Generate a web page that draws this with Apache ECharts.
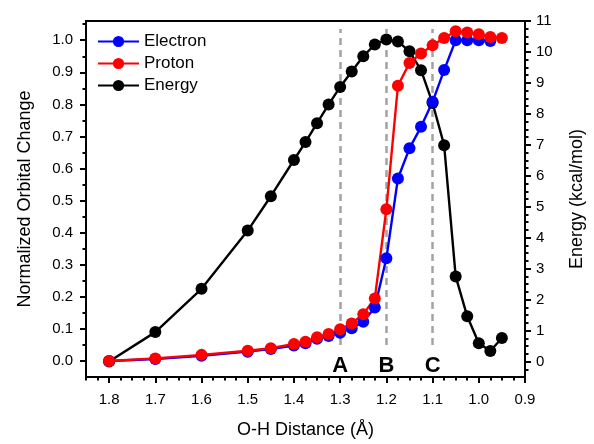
<!DOCTYPE html>
<html>
<head>
<meta charset="utf-8">
<script src="https://cdn.jsdelivr.net/npm/echarts@6/dist/echarts.min.js"></script>
<style>
  html, body { margin: 0; padding: 0; background: #fff; }
  #chart { width: 594px; height: 444px; }
</style>
</head>
<body>
<div id="chart"></div>
<script>
// O-H distance scan (Å), sampled finer around the transition region
const distance = [1.8, 1.7, 1.6, 1.5, 1.45, 1.4, 1.375, 1.35, 1.325, 1.3, 1.275, 1.25,
                  1.225, 1.2, 1.175, 1.15, 1.125, 1.1, 1.075, 1.05, 1.025, 1.0, 0.975, 0.95];
// Normalized orbital change of the electron
const electron = [0, 0.006, 0.016, 0.029, 0.037, 0.048, 0.055, 0.069, 0.078, 0.088, 0.102, 0.122,
                  0.167, 0.32, 0.569, 0.663, 0.73, 0.808, 0.907, 1.0, 1.0, 1.0, 0.998, null];
// Normalized orbital change of the proton
const proton = [0, 0.008, 0.019, 0.032, 0.04, 0.053, 0.06, 0.074, 0.084, 0.099, 0.117, 0.146,
                0.195, 0.473, 0.858, 0.929, 0.959, 0.984, 1.007, 1.028, 1.024, 1.019, 1.01, 1.007];
// Energy profile (kcal/mol)
const energy = [0, 0.95, 2.35, 4.23, 5.34, 6.51, 7.09, 7.7, 8.3, 8.87, 9.37, 9.86,
                10.24, 10.4, 10.34, 10.02, 9.41, 8.35, 6.99, 2.75, 1.46, 0.59, 0.34, 0.76];

// Reference points along the scan
const markerNames = ['A', 'B', 'C'];
const markerDistances = [1.3, 1.2, 1.1];

// Tick values
const xTicks = [0.9, 1.0, 1.1, 1.2, 1.3, 1.4, 1.5, 1.6, 1.7, 1.8];
const leftTicks = [0.0, 0.1, 0.2, 0.3, 0.4, 0.5, 0.6, 0.7, 0.8, 0.9, 1.0];
const rightTicks = [0, 1, 2, 3, 4, 5, 6, 7, 8, 9, 10, 11];

const round = v => Math.round(v * 10000) / 10000;
const xMinor = [];
for (let i = 0; i < xTicks.length; i++) {
  for (let k = 1; k < 4; k++) xMinor.push(round(xTicks[i] + k * 0.025));
}
xMinor.push(1.825);
const leftMinor = [];
for (let i = 0; i < leftTicks.length; i++) leftMinor.push(round(leftTicks[i] + 0.05));
const rightMinor = [-0.25];
for (let i = 0; i < rightTicks.length - 1; i++) {
  for (let k = 1; k < 4; k++) rightMinor.push(round(rightTicks[i] + k * 0.25));
}

const FONT = 'Liberation Sans, Arial, Helvetica, sans-serif';
const pair = arr => distance.map((d, i) => [d, arr[i]]);

const chart = echarts.init(document.getElementById('chart'), null, { renderer: 'canvas' });

const axisLineStyle = { color: '#000', width: 2 };
const X_MIN = 0.9, X_MAX = 1.85;
const L_MIN = -0.05, L_MAX = 1.06;
const R_MIN = -0.5, R_MAX = 11;

chart.setOption({
  animation: false,
  backgroundColor: '#fff',
  grid: {
    left: 86, right: 66, top: 21, bottom: 66,
    show: true, borderColor: '#000', borderWidth: 2, backgroundColor: 'transparent'
  },
  legend: {
    data: ['Electron', 'Proton', 'Energy'],
    orient: 'vertical',
    left: 97, top: 33,
    padding: 0,
    itemWidth: 41, itemHeight: 14, itemGap: 5,
    textStyle: { fontFamily: FONT, fontSize: 17, color: '#000', lineHeight: 17, padding: [0, 0, 0, 0] }
  },
  xAxis: [
    {
      type: 'value', min: X_MIN, max: X_MAX, inverse: true, position: 'bottom',
      name: 'O-H Distance (Å)', nameLocation: 'middle', nameGap: 44,
      nameTextStyle: { fontFamily: FONT, fontSize: 18, color: '#000' },
      axisLine: { show: true, onZero: false, lineStyle: axisLineStyle },
      axisTick: { show: true, length: 6, lineStyle: { color: '#000', width: 2 }, customValues: xTicks },
      axisLabel: { fontFamily: FONT, fontSize: 15, color: '#000', margin: 15,
                   customValues: xTicks, formatter: v => v.toFixed(1) },
      splitLine: { show: false }
    },
    {
      type: 'value', min: X_MIN, max: X_MAX, inverse: true, position: 'bottom', offset: 0,
      axisLine: { show: false, onZero: false },
      axisTick: { show: true, length: 3.5, lineStyle: { color: '#000', width: 2 }, customValues: xMinor },
      axisLabel: { show: false },
      splitLine: { show: false }
    }
  ],
  yAxis: [
    {
      type: 'value', min: L_MIN, max: L_MAX, position: 'left',
      name: 'Normalized Orbital Change', nameLocation: 'middle', nameGap: 52, nameRotate: 90,
      nameTextStyle: { fontFamily: FONT, fontSize: 18, color: '#000' },
      axisLine: { show: true, onZero: false, lineStyle: axisLineStyle },
      axisTick: { show: true, length: 6, lineStyle: { color: '#000', width: 2 }, customValues: leftTicks },
      axisLabel: { fontFamily: FONT, fontSize: 15, color: '#000', margin: 13,
                   customValues: leftTicks, formatter: v => v.toFixed(1) },
      splitLine: { show: false }
    },
    {
      type: 'value', min: L_MIN, max: L_MAX, position: 'left', offset: 0,
      axisLine: { show: false, onZero: false },
      axisTick: { show: true, length: 3.5, lineStyle: { color: '#000', width: 2 }, customValues: leftMinor },
      axisLabel: { show: false },
      splitLine: { show: false }
    },
    {
      type: 'value', min: R_MIN, max: R_MAX, position: 'right',
      name: 'Energy (kcal/mol)', nameLocation: 'middle', nameGap: 43, nameRotate: 90,
      nameTextStyle: { fontFamily: FONT, fontSize: 18, color: '#000' },
      axisLine: { show: true, onZero: false, lineStyle: axisLineStyle },
      axisTick: { show: true, length: 6, lineStyle: { color: '#000', width: 2 }, customValues: rightTicks },
      axisLabel: { fontFamily: FONT, fontSize: 15, color: '#000', margin: 11,
                   customValues: rightTicks, formatter: v => String(v) },
      splitLine: { show: false }
    },
    {
      type: 'value', min: R_MIN, max: R_MAX, position: 'right', offset: 0,
      axisLine: { show: false, onZero: false },
      axisTick: { show: true, length: 3.5, lineStyle: { color: '#000', width: 2 }, customValues: rightMinor },
      axisLabel: { show: false },
      splitLine: { show: false }
    }
  ],
  series: [
    {
      // guide lines and their letters, drawn beneath the curves
      name: 'guides', type: 'line', data: [], xAxisIndex: 0, yAxisIndex: 0, silent: true, z: 1,
      markLine: {
        silent: true, z: 1, symbol: ['none', 'none'], label: { show: false },
        lineStyle: { color: '#a3a3a3', width: 2.5, type: [7, 5] },
        data: markerDistances.map(d => [{ coord: [d, 0.05] }, { coord: [d, 1.035] }])
      },
      markPoint: {
        silent: true, z: 1, symbol: 'circle', symbolSize: 1,
        itemStyle: { color: 'rgba(0,0,0,0)' },
        label: { show: true, position: 'inside', fontFamily: FONT, fontSize: 22, fontWeight: 'bold',
                 color: '#000', formatter: p => p.name },
        data: markerDistances.map((d, i) => ({ name: markerNames[i], coord: [d, -0.014] }))
      }
    },
    {
      name: 'Energy', type: 'line', xAxisIndex: 0, yAxisIndex: 2, z: 2,
      data: pair(energy), symbol: 'circle', symbolSize: 12,
      lineStyle: { color: '#000', width: 2.4 }, itemStyle: { color: '#000' }
    },
    {
      name: 'Electron', type: 'line', xAxisIndex: 0, yAxisIndex: 0, z: 2,
      data: pair(electron), symbol: 'circle', symbolSize: 12,
      lineStyle: { color: '#0000ff', width: 2.4 }, itemStyle: { color: '#0000ff' }
    },
    {
      name: 'Proton', type: 'line', xAxisIndex: 0, yAxisIndex: 0, z: 2,
      data: pair(proton), symbol: 'circle', symbolSize: 12,
      lineStyle: { color: '#ff0000', width: 2.4 }, itemStyle: { color: '#ff0000' }
    }
  ]
});
</script>
</body>
</html>
